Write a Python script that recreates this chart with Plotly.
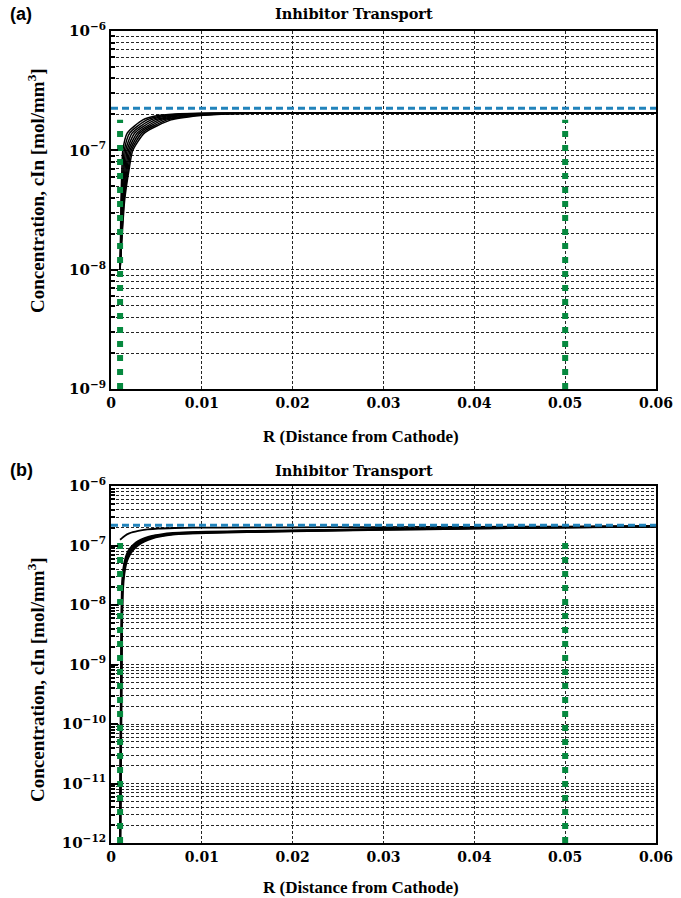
import plotly.graph_objects as go

# ---------------- data ----------------
# Panel (a): black concentration curves (x positions where each curve reaches the y levels)
a_levels = [1.0e-8, 3.8e-8, 7.0e-8, 1.0e-7, 1.4e-7, 1.8e-7, 1.95e-7, 2.02e-7, 2.05e-7, 2.05e-7]
a_curve_x = [
    [0.0010, 0.00110, 0.00120, 0.00130, 0.00180, 0.00350, 0.0050, 0.0070, 0.0100, 0.06],
    [0.0010, 0.00116, 0.00132, 0.00146, 0.00207, 0.00394, 0.0057, 0.0078, 0.0109, 0.06],
    [0.0010, 0.00121, 0.00143, 0.00161, 0.00234, 0.00439, 0.0063, 0.0086, 0.0117, 0.06],
    [0.0010, 0.00127, 0.00155, 0.00177, 0.00261, 0.00483, 0.0070, 0.0094, 0.0126, 0.06],
    [0.0010, 0.00133, 0.00167, 0.00193, 0.00289, 0.00527, 0.0076, 0.0102, 0.0134, 0.06],
    [0.0010, 0.00139, 0.00178, 0.00209, 0.00316, 0.00571, 0.0083, 0.0110, 0.0143, 0.06],
    [0.0010, 0.00144, 0.00190, 0.00224, 0.00343, 0.00616, 0.0089, 0.0118, 0.0151, 0.06],
    [0.0010, 0.00150, 0.00200, 0.00240, 0.00370, 0.00660, 0.0096, 0.0126, 0.0160, 0.06],
]
a_bulk_level = 2.25e-7          # blue dashed line, panel (a)
a_green_top = 1.8e-7

# Panel (b)
b_upper_x = [0.001, 0.0015, 0.002, 0.003, 0.004, 0.0052, 0.007, 0.009, 0.012, 0.02, 0.03, 0.04, 0.05, 0.06]
b_upper_y = [1.25e-7, 1.45e-7, 1.6e-7, 1.76e-7, 1.86e-7, 1.93e-7, 1.97e-7, 1.99e-7, 2.0e-7,
             2.02e-7, 2.04e-7, 2.06e-7, 2.08e-7, 2.1e-7]
b_lower_x = [0.00100, 0.00105, 0.00110, 0.00115, 0.00120, 0.00130, 0.00145, 0.00166, 0.0019,
             0.0022, 0.0026, 0.0030, 0.0037, 0.0045, 0.0055, 0.0068, 0.0085, 0.0105, 0.015,
             0.02, 0.03, 0.04, 0.05, 0.06]
b_lower_y1 = [1e-12, 1e-11, 1e-10, 1e-9, 8e-9, 2.5e-8, 4e-8, 5.7e-8, 7e-8, 8.4e-8, 9.8e-8, 1.1e-7,
              1.25e-7, 1.38e-7, 1.48e-7, 1.57e-7, 1.62e-7, 1.66e-7, 1.71e-7, 1.76e-7, 1.86e-7,
              1.95e-7, 2.03e-7, 2.1e-7]
b_lower_y2 = [1e-12, 2e-11, 3e-10, 3e-9, 1.5e-8, 3.2e-8, 4.8e-8, 6.5e-8, 8e-8, 9.3e-8, 1.07e-7,
              1.18e-7, 1.32e-7, 1.44e-7, 1.53e-7, 1.61e-7, 1.66e-7, 1.69e-7, 1.74e-7, 1.78e-7,
              1.88e-7, 1.97e-7, 2.04e-7, 2.1e-7]
b_lower_y3 = [1e-12, 5e-12, 5e-11, 5e-10, 4e-9, 1.8e-8, 3.3e-8, 5e-8, 6.3e-8, 7.6e-8, 9e-8,
              1.02e-7, 1.18e-7, 1.32e-7, 1.43e-7, 1.53e-7, 1.59e-7, 1.63e-7, 1.69e-7, 1.74e-7,
              1.84e-7, 1.94e-7, 2.02e-7, 2.1e-7]
b_bulk_level = 2.2e-7
b_green_top = 1.5e-7

x_ticks = [0, 0.01, 0.02, 0.03, 0.04, 0.05, 0.06]
x_ticktext = ["0", "0.01", "0.02", "0.03", "0.04", "0.05", "0.06"]
green_x = [0.001, 0.05]
a_decades = [-9, -8, -7, -6]
b_decades = [-12, -11, -10, -9, -8, -7, -6]
title_text = "Inhibitor Transport"
xtitle_text = "R (Distance from Cathode)"
ytitle_text = "Concentration, cIn [mol/mm<sup>3</sup>]"

# ---------------- figure ----------------
W, H = 681, 898
fig = go.Figure()

BLUE = "#2183bb"
GREEN = "#06893f"

def add_panel(xa, ya, curves, bulk, gtop, ymin):
    for cx, cy, lw in curves:
        fig.add_trace(go.Scatter(x=cx, y=cy, mode="lines", xaxis=xa, yaxis=ya,
                                 line=dict(color="black", width=lw, shape="spline", smoothing=0.6),
                                 showlegend=False, hoverinfo="skip"))
    fig.add_trace(go.Scatter(x=[x_ticks[0], x_ticks[-1]], y=[bulk, bulk], mode="lines",
                             xaxis=xa, yaxis=ya, showlegend=False,
                             line=dict(color=BLUE, width=3, dash="7px,4px")))
    for gx in green_x:
        fig.add_trace(go.Scatter(x=[gx, gx], y=[ymin, gtop], mode="lines",
                                 xaxis=xa, yaxis=ya, showlegend=False,
                                 line=dict(color=GREEN, width=6, dash="6px,8px")))

a_curves = [(cx, a_levels, 1.5) for cx in a_curve_x]
add_panel("x", "y", a_curves, a_bulk_level, a_green_top, 10.0 ** a_decades[0])
b_curves = [(b_upper_x, b_upper_y, 1.8),
            (b_lower_x, b_lower_y1, 2.2),
            (b_lower_x, b_lower_y2, 2.2),
            (b_lower_x, b_lower_y3, 2.2)]
add_panel("x2", "y2", b_curves, b_bulk_level, b_green_top, 10.0 ** b_decades[0])

tickfont = dict(family="DejaVu Serif", size=14, color="black", weight="bold")
grid = dict(gridcolor="rgba(0,0,0,0.85)", gridwidth=1, griddash="3px,2px")

def xaxis(domain_y_anchor):
    return dict(domain=[111 / W, 656 / W], anchor=domain_y_anchor, range=[0, 0.06],
                tickvals=x_ticks, ticktext=x_ticktext, ticks="", tickfont=tickfont,
                showline=True, linecolor="black", linewidth=2, mirror=True,
                showgrid=True, zeroline=False, automargin=False, **grid)

def yaxis(decades, top, bottom, anchor):
    minor_vals = [m * 10.0 ** e for e in decades[:-1] for m in range(2, 10)]
    return dict(type="log", domain=[1 - bottom / H, 1 - top / H], anchor=anchor,
                range=[decades[0], decades[-1]],
                tickvals=[10.0 ** d for d in decades],
                ticktext=["10<sup>\u2212%d</sup>" % (-d) for d in decades],
                ticks="inside", ticklen=7, tickwidth=1.5, tickcolor="black",
                tickfont=dict(family="DejaVu Serif", size=15, color="black", weight="bold"),
                showline=True, linecolor="black", linewidth=2, mirror=True,
                showgrid=True, zeroline=False, automargin=False, **grid,
                minor=dict(tickmode="array", tickvals=minor_vals, ticks="inside", ticklen=4,
                           tickcolor="black", showgrid=True, **grid))

fig.update_layout(
    width=W, height=H, margin=dict(l=0, r=0, t=0, b=0, pad=0, autoexpand=False),
    paper_bgcolor="white", plot_bgcolor="white",
    xaxis=xaxis("y"), yaxis=yaxis(a_decades, 31, 389, "x"),
    xaxis2=xaxis("y2"), yaxis2=yaxis(b_decades, 486, 843, "x2"),
    showlegend=False,
)

ann = []
for lab, ty, xt_y, yt_y in [("(a)", 14, 436, 191), ("(b)", 470, 887, 680)]:
    ann.append(dict(text=lab, x=8 / W, y=1 - ty / H, xref="paper", yref="paper",
                    xanchor="left", yanchor="middle", showarrow=False,
                    font=dict(family="Liberation Sans", size=18, color="black", weight="bold")))
    ann.append(dict(text=title_text, x=354 / W, y=1 - ty / H, xref="paper", yref="paper",
                    xanchor="center", yanchor="middle", showarrow=False,
                    font=dict(family="DejaVu Serif", size=14.5, color="black", weight="bold")))
    ann.append(dict(text=xtitle_text, x=361 / W, y=1 - xt_y / H, xref="paper", yref="paper",
                    xanchor="center", yanchor="middle", showarrow=False,
                    font=dict(family="Liberation Serif", size=17, color="black", weight="bold")))
    ann.append(dict(text=ytitle_text, x=36 / W, y=1 - yt_y / H, xref="paper", yref="paper",
                    xanchor="center", yanchor="middle", showarrow=False, textangle=-90,
                    font=dict(family="Liberation Serif", size=19, color="black", weight="bold")))
fig.update_layout(annotations=ann)

fig.write_html("out.html", config={"displayModeBar": False},
               post_script="document.body.style.margin='0';document.body.style.overflow='hidden';")
